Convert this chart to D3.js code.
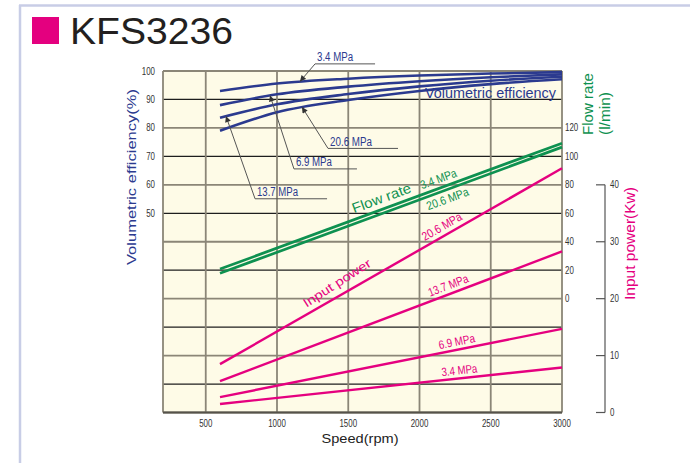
<!DOCTYPE html>
<html>
<head>
<meta charset="utf-8">
<script src="https://cdn.jsdelivr.net/npm/d3@7"></script>
<style>
  html, body { margin: 0; padding: 0; background: #fff; }
  svg { display: block; font-family: "Liberation Sans", Arial, sans-serif; }
</style>
</head>
<body>
<svg id="chart" width="690" height="463"></svg>
<script>
// ---- data ----
const speedTicks = [500, 1000, 1500, 2000, 2500, 3000];
const effTicks = [100, 90, 80, 70, 60, 50];
const flowTicks = [120, 100, 80, 60, 40, 20, 0];
const powerTicks = [40, 30, 20, 10, 0];

// volumetric efficiency (%) vs speed (rpm), one per discharge pressure
const effSpeeds = [600, 1000, 1500, 2000, 2500, 3000];
const eff34 = [93.0, 95.6, 97.3, 98.4, 99.1, 99.6];
const eff69 = [88.0, 91.8, 94.5, 96.4, 97.8, 98.8];
const eff137 = [83.6, 88.3, 91.9, 94.6, 96.6, 98.0];
const eff206 = [79.0, 85.5, 89.8, 93.0, 95.4, 97.1];

// flow rate (l/min)
const flowSpeeds = [600, 3000];
const flow34 = [20.8, 109.3];
const flow206 = [17.8, 106.5];

// input power (kW)
const powerSpeeds = [600, 3000];
const power34 = [1.5, 7.9];
const power69 = [2.7, 14.7];
const power137 = [5.5, 28.3];
const power206 = [8.5, 42.9];

// ---- colours ----
const BLUE = "#2b3a8f", GREEN = "#0e9150", PINK = "#e5007f";
const GRID_GREY = "#8b8677", GRID_DARK = "#1e1e1e";

const svg = d3.select("#chart");

// page frame
svg.append("line").attr("x1", 20).attr("x2", 20).attr("y1", 5).attr("y2", 463)
  .attr("stroke", "#c8cde6").attr("stroke-width", 2.5);
svg.append("line").attr("x1", 19).attr("x2", 690).attr("y1", 5.5).attr("y2", 5.5)
  .attr("stroke", "#c8cde6").attr("stroke-width", 2.5);

// title
svg.append("rect").attr("x", 32).attr("y", 17).attr("width", 27).attr("height", 27).attr("fill", "#e4007f");
svg.append("text").attr("x", 70).attr("y", 43.5).attr("font-size", 36).attr("fill", "#231f20")
  .attr("textLength", 163).attr("lengthAdjust", "spacingAndGlyphs").text("KFS3236");

// ---- scales ----
const x = d3.scaleLinear().domain([200, 3000]).range([163, 562]);
const yEff = d3.scaleLinear().domain([-20, 100]).range([412.5, 71]);
const yFlow = d3.scaleLinear().domain([-80, 160]).range([412.5, 71]);
const yPow = d3.scaleLinear().domain([0, 60]).range([412.5, 71]);

// plot background
svg.append("rect").attr("x", x(200)).attr("y", yEff(100))
  .attr("width", x(3000) - x(200)).attr("height", yEff(-20) - yEff(100))
  .attr("fill", "#fefbe7");

// horizontal grid: alternating grey / dark rules every 10 %
const hLines = d3.range(100, -21, -10);
svg.append("g").selectAll("line").data(hLines).join("line")
  .attr("x1", x(200)).attr("x2", x(3000))
  .attr("y1", d => yEff(d)).attr("y2", d => yEff(d))
  .attr("stroke", (d, i) => i % 2 === 1 ? GRID_DARK : GRID_GREY)
  .attr("stroke-width", (d, i) => i % 2 === 1 ? 1.3 : 1.8);

// vertical grid
svg.append("g").selectAll("line").data([200].concat(speedTicks)).join("line")
  .attr("x1", d => x(d)).attr("x2", d => x(d))
  .attr("y1", yEff(100)).attr("y2", yEff(-20))
  .attr("stroke", GRID_GREY).attr("stroke-width", 1.8);

// bottom edge
svg.append("line").attr("x1", x(200)).attr("x2", x(3000))
  .attr("y1", yEff(-20)).attr("y2", yEff(-20))
  .attr("stroke", "#55524a").attr("stroke-width", 1.8);

// ---- tick labels ----
const tickFont = 10, digitW = 4.4;
function condensed(sel, s) {
  sel.attr("textLength", String(s).length * digitW).attr("lengthAdjust", "spacingAndGlyphs").text(s);
}
svg.append("g").selectAll("text").data(effTicks).join("text")
  .attr("x", 155).attr("y", d => yEff(d) + 3.5).attr("text-anchor", "end")
  .attr("font-size", tickFont).attr("fill", "#333")
  .each(function (d) { condensed(d3.select(this), d); });

svg.append("g").selectAll("text").data(speedTicks).join("text")
  .attr("x", d => x(d)).attr("y", 427).attr("text-anchor", "middle")
  .attr("font-size", tickFont).attr("fill", "#333")
  .each(function (d) { condensed(d3.select(this), d); });

svg.append("g").selectAll("text").data(flowTicks).join("text")
  .attr("x", 565).attr("y", d => yFlow(d) + 3.5).attr("text-anchor", "start")
  .attr("font-size", tickFont).attr("fill", "#333")
  .each(function (d) { condensed(d3.select(this), d); });

// power axis
const powAxisX = 605;
svg.append("line").attr("x1", powAxisX).attr("x2", powAxisX)
  .attr("y1", yPow(40)).attr("y2", yPow(0)).attr("stroke", "#777").attr("stroke-width", 1.5);
svg.append("g").selectAll("line").data(powerTicks).join("line")
  .attr("x1", powAxisX - 9).attr("x2", powAxisX)
  .attr("y1", d => yPow(d)).attr("y2", d => yPow(d))
  .attr("stroke", "#555").attr("stroke-width", 1.2);
svg.append("g").selectAll("text").data(powerTicks).join("text")
  .attr("x", powAxisX + 5).attr("y", d => yPow(d) + 3.5).attr("text-anchor", "start")
  .attr("font-size", tickFont).attr("fill", "#333")
  .each(function (d) { condensed(d3.select(this), d); });

// ---- axis titles ----
svg.append("text").attr("transform", `translate(136,${177}) rotate(-90)`)
  .attr("text-anchor", "middle").attr("font-size", 13.5).attr("fill", BLUE)
  .attr("textLength", 176).attr("lengthAdjust", "spacingAndGlyphs")
  .text("Volumetric efficiency(%)");
svg.append("text").attr("x", 360).attr("y", 443).attr("text-anchor", "middle")
  .attr("font-size", 13).attr("fill", "#222")
  .attr("textLength", 77).attr("lengthAdjust", "spacingAndGlyphs").text("Speed(rpm)");
svg.append("text").attr("transform", "translate(593,135) rotate(-90)")
  .attr("font-size", 15).attr("fill", GREEN)
  .attr("textLength", 62).attr("lengthAdjust", "spacingAndGlyphs").text("Flow rate");
svg.append("text").attr("transform", "translate(610,135) rotate(-90)")
  .attr("font-size", 15).attr("fill", GREEN)
  .attr("textLength", 43).attr("lengthAdjust", "spacingAndGlyphs").text("(l/min)");
svg.append("text").attr("transform", "translate(635,300) rotate(-90)")
  .attr("font-size", 14.5).attr("fill", PINK)
  .attr("textLength", 113).attr("lengthAdjust", "spacingAndGlyphs").text("Input power(Kw)");

// ---- series ----
const effSeries = [eff34, eff69, eff137, eff206];
const flowSeries = [flow34, flow206];
const powerSeries = [power34, power69, power137, power206];

const effLine = d3.line().x(d => x(d[0])).y(d => yEff(d[1])).curve(d3.curveMonotoneX);
const flowLine = d3.line().x(d => x(d[0])).y(d => yFlow(d[1]));
const powLine = d3.line().x(d => x(d[0])).y(d => yPow(d[1]));

svg.append("g").selectAll("path").data(flowSeries).join("path")
  .attr("d", s => flowLine(flowSpeeds.map((r, i) => [r, s[i]])))
  .attr("fill", "none").attr("stroke", GREEN).attr("stroke-width", 2.7);

svg.append("g").selectAll("path").data(powerSeries).join("path")
  .attr("d", s => powLine(powerSpeeds.map((r, i) => [r, s[i]])))
  .attr("fill", "none").attr("stroke", PINK).attr("stroke-width", 2.4);

svg.append("g").selectAll("path").data(effSeries).join("path")
  .attr("d", s => effLine(effSpeeds.map((r, i) => [r, s[i]])))
  .attr("fill", "none").attr("stroke", BLUE).attr("stroke-width", 2.6);

// ---- efficiency leader labels ----
function interp(speeds, vals, r) {
  return d3.scaleLinear().domain(speeds).range(vals)(r);
}
function effAt(series, r) {
  // sample the drawn monotone curve for an exact point on it
  const path = effLine(effSpeeds.map((s, i) => [s, series[i]]));
  const p = document.createElementNS("http://www.w3.org/2000/svg", "path");
  p.setAttribute("d", path);
  const len = p.getTotalLength();
  let lo = 0, hi = len, tx = x(r);
  for (let k = 0; k < 40; k++) {
    const mid = (lo + hi) / 2;
    if (p.getPointAtLength(mid).x < tx) lo = mid; else hi = mid;
  }
  return p.getPointAtLength(lo).y;
}

const leaderLabels = [
  { text: "3.4 MPa", series: eff34, tip: 1161, at: [1267, 102.5], len: 60, w: 36 },
  { text: "20.6 MPa", series: eff206, tip: 1175, at: [1358, 72.8], len: 70, w: 42 },
  { text: "6.9 MPa", series: eff69, tip: 951, at: [1119, 65.6], len: 63, w: 36 },
  { text: "13.7 MPa", series: eff137, tip: 642, at: [846, 55.1], len: 72, w: 41 }
];

const defs = svg.append("defs");
defs.append("marker").attr("id", "arrow").attr("viewBox", "0 0 10 10")
  .attr("refX", 10).attr("refY", 5).attr("markerWidth", 7).attr("markerHeight", 6)
  .attr("markerUnits", "userSpaceOnUse").attr("orient", "auto")
  .append("path").attr("d", "M0,0 L10,5 L0,10 Z").attr("fill", "#333");

const lg = svg.append("g");
leaderLabels.forEach(l => {
  const ux = x(l.at[0]), uy = yEff(l.at[1]);
  const tx = x(l.tip), ty = effAt(l.series, l.tip);
  lg.append("line").attr("x1", ux).attr("x2", ux + l.len).attr("y1", uy).attr("y2", uy)
    .attr("stroke", "#555").attr("stroke-width", 1);
  lg.append("line").attr("x1", ux).attr("y1", uy).attr("x2", tx).attr("y2", ty)
    .attr("stroke", "#555").attr("stroke-width", 1).attr("marker-end", "url(#arrow)");
  lg.append("text").attr("x", ux + 2).attr("y", uy - 2.5)
    .attr("font-size", 12).attr("fill", BLUE)
    .attr("textLength", l.w).attr("lengthAdjust", "spacingAndGlyphs").text(l.text);
});

svg.append("text").attr("x", 425).attr("y", 97.5).attr("font-size", 14).attr("fill", BLUE)
  .attr("textLength", 131).attr("lengthAdjust", "spacingAndGlyphs").text("Volumetric efficiency");

// ---- labels riding on straight series ----
function rideLabel(speeds, vals, yScale, r, offset, text, opts) {
  const x0 = x(r), y0 = yScale(interp(speeds, vals, r));
  const x1 = x(speeds[1]), y1 = yScale(vals[1]);
  const xa = x(speeds[0]), ya = yScale(vals[0]);
  const ang = Math.atan2(y1 - ya, x1 - xa) * 180 / Math.PI + (opts.tilt || 0);
  svg.append("text")
    .attr("transform", `translate(${x0},${y0}) rotate(${ang}) translate(0,${offset})`)
    .attr("font-size", opts.size).attr("fill", opts.color)
    .attr("textLength", opts.w).attr("lengthAdjust", "spacingAndGlyphs")
    .text(text);
}

rideLabel(flowSpeeds, flow34, yFlow, 1555, -6, "Flow rate", { size: 14, color: GREEN, w: 62 });
rideLabel(flowSpeeds, flow34, yFlow, 2030, -5, "3.4 MPa", { size: 12, color: GREEN, w: 38 });
rideLabel(flowSpeeds, flow206, yFlow, 2030, 13, "20.6 MPa", { size: 12, color: GREEN, w: 44 });

rideLabel(powerSpeeds, power206, yPow, 1230, -6, "Input power", { size: 12.5, color: PINK, w: 78, tilt: -3 });
rideLabel(powerSpeeds, power206, yPow, 2055, -5, "20.6 MPa", { size: 12, color: PINK, w: 44 });
rideLabel(powerSpeeds, power137, yPow, 2085, -4.5, "13.7 MPa", { size: 12, color: PINK, w: 42 });
rideLabel(powerSpeeds, power69, yPow, 2145, -4, "6.9 MPa", { size: 12, color: PINK, w: 37 });
rideLabel(powerSpeeds, power34, yPow, 2160, -4, "3.4 MPa", { size: 12, color: PINK, w: 36 });
</script>
</body>
</html>
